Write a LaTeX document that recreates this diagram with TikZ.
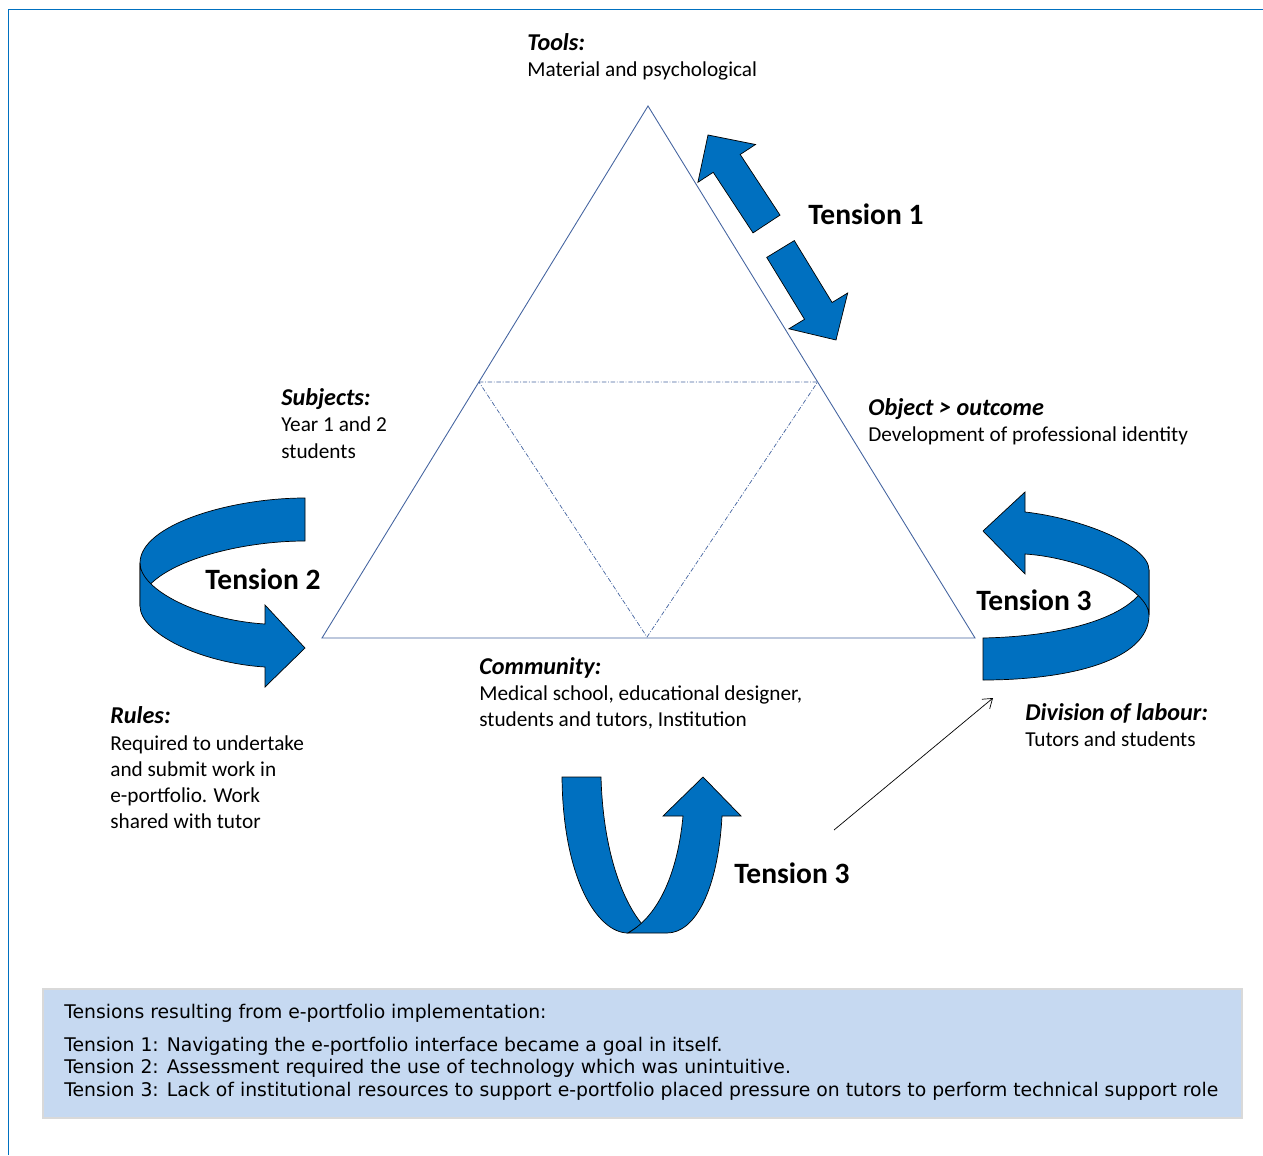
\documentclass[tikz,border=0pt]{standalone}
\usepackage{fontspec}
\setmainfont{Carlito}
\newfontfamily\verdfont{DejaVu Sans}
\usetikzlibrary{arrows.meta}
\definecolor{fatblue}{RGB}{0,112,192}
\definecolor{triblue}{RGB}{68,100,160}
\definecolor{boxfill}{RGB}{198,217,241}
\definecolor{boxline}{RGB}{217,217,217}
\newcommand{\hd}[1]{{\fontsize{13.75}{14.8}\selectfont\textbf{\textit{#1}}}}

\begin{document}
\begin{tikzpicture}[x=0.02cm,y=-0.02cm,
    fat/.style={fill=fatblue,draw=black,line width=0.4pt},
    tri/.style={draw=triblue,line width=0.5pt},
    midtri/.style={draw=triblue,line width=0.4pt,dash pattern=on 2.5pt off 1pt on 0.5pt off 1pt},
    lbl/.style={anchor=base west,align=left,font=\fontsize{12.1}{14.8}\selectfont},
    tens/.style={anchor=west,font=\fontsize{16.8}{19}\selectfont\bfseries}]
				\tikzstyle{every node}+=[inner sep=0pt]
				\useasboundingbox (0,0) rectangle (1263,1155);
				\draw [fatblue,line width=1pt] (8.5,1155) -- (8.5,9.5) -- (1263,9.5);
				\coordinate (apex) at (648,106);
				\coordinate (left) at (322,638);
				\coordinate (right) at (975,638);
				\coordinate (ml) at (478.9,382);
				\coordinate (mr) at (817.6,382);
				\coordinate (mb) at (647,637);
				\draw [tri] (apex) -- (right) -- (left) -- cycle;
				\draw [midtri] (ml) -- (mr) -- (mb) -- cycle;
				\draw [fat] (753,232.9) -- (780,215.1) -- (740.2,154.5) -- (755.5,144.5) -- (708,135) -- (697.9,182.3) -- (713.2,172.3) -- cycle;
				\draw [fat] (766.7,257.4) -- (794.3,240.6) -- (832.1,302.5) -- (847.7,293) -- (836,340) -- (788.9,328.8) -- (804.5,319.3) -- cycle;
				\draw [fat] (305,498) .. controls (230,498) and (140,525) .. (140,563) -- (140,606) .. controls (140,568) and (230,541) .. (305,541) -- cycle;
				\draw [fat] (140,563) .. controls (140,590) and (200,620) .. (265,624) -- (265,605) -- (305,648) -- (265,687) -- (265,667) .. controls (200,663) and (140,633) .. (140,606) -- cycle;
				\draw [fat] (983,638) .. controls (1080,636) and (1149,610) .. (1149,570) -- (1149,615) .. controls (1149,660) and (1070,680) .. (983,680) -- cycle;
				\draw [fat] (1025,512) .. controls (1080,518) and (1149,545) .. (1149,570) -- (1149,615) .. controls (1149,590) and (1085,558) .. (1025,554) -- (1025,574) -- (983,531) -- (1025,492) -- cycle;
				\draw [fat] (628,933) .. controls (598,933) and (563,880) .. (562,777) -- (601,777) .. controls (603,850) and (622,900) .. (642,924) -- cycle;
				\draw [fat] (628,933) .. controls (660,915) and (678,870) .. (683,816) -- (663,816) -- (703,777) -- (741,816) -- (722,816) .. controls (718,890) and (695,933) .. (667,933) -- cycle;
				\node (tools) [lbl] at (527,76.8) {\hd{Tools:}\\Material and psychological};
				\node (subjects) [lbl] at (281,458) {\hd{Subjects:}\\Year 1 and 2\\students};
				\node (object) [lbl] at (868,441.8) {\hd{Object > outcome}\\Development of professional identity};
				\node (rules) [lbl] at (110,828) {\hd{Rules:}\\Required to undertake\\and submit work in\\e-portfolio. Work\\shared with tutor};
				\node (community) [lbl] at (479,726.9) {\hd{Community:}\\Medical school, educational designer,\\students and tutors, Institution};
				\node (division) [lbl] at (1025,746.8) {\hd{Division of labour:}\\Tutors and students};
				\node (tension1) [tens] at (808,214) {Tension 1};
				\node (tension2) [tens] at (205,579) {Tension 2};
				\node (tension3r) [tens] at (976,600) {Tension 3};
				\node (tension3b) [tens] at (734,873) {Tension 3};
				\coordinate (ptail) at (834,830);
				\coordinate (phead) at (993,698);
				\draw [black,line width=0.4pt,-{Straight Barb[length=5pt,width=7pt]}] (ptail) -- (phead);
				\draw [boxline,fill=boxfill,line width=1pt] (43,989) rectangle (1242,1118);
				\node (legend) [anchor=base west,align=left,font=\verdfont\fontsize{10.7}{12.75}\selectfont] at (64,1096) {Tensions resulting from e-portfolio implementation:\\[6pt]Tension 1: Navigating the e-portfolio interface became a goal in itself.\\Tension 2: Assessment required the use of technology which was unintuitive.\\Tension 3: Lack of institutional resources to support e-portfolio placed pressure on tutors to perform technical support role};
				\end{tikzpicture}
\end{document}
